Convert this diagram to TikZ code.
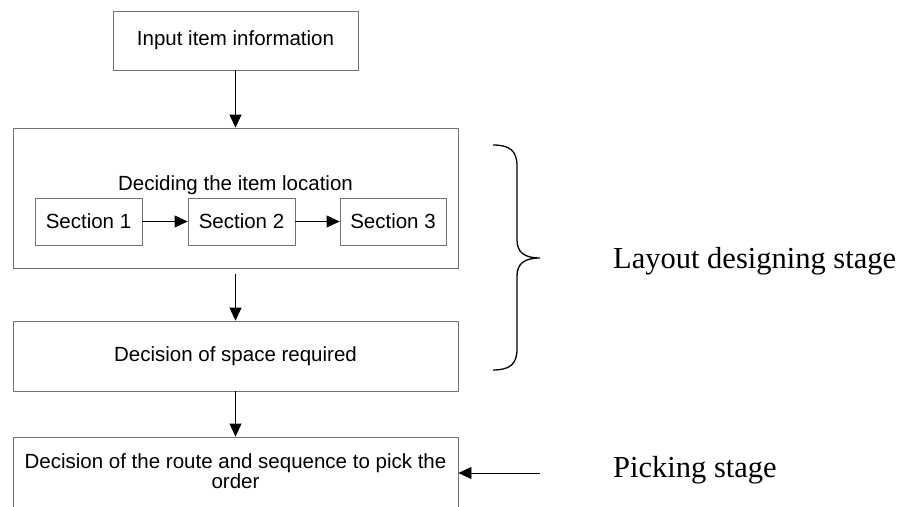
\documentclass[tikz,border=0pt]{standalone}
\usepackage{fontspec}
\setmainfont{Liberation Serif}
\newfontfamily\flowfont{Liberation Sans}
\usetikzlibrary{arrows.meta}

\tikzset{
  box/.style={draw=black!55, line width=0.8pt, rectangle, inner sep=0pt,
    font=\flowfont\fontsize{20.5}{20}\selectfont, align=center},
  plain/.style={inner sep=0pt, font=\flowfont\fontsize{20.5}{20}\selectfont, align=center},
  flow/.style={draw=black, line width=0.8pt, -{Triangle[length=13pt,width=12pt]}},
  stagelabel/.style={inner sep=0pt, anchor=base west, font=\fontsize{30.5}{30}\selectfont},
  bracestroke/.style={draw=black, line width=1.3pt}
}

\begin{document}
\begin{tikzpicture}[x=1pt, y=-1pt]
  \useasboundingbox (0,0) rectangle (917,506);
  \clip (0,0) rectangle (917,506);

  % flowchart boxes
  \node[box, minimum width=245pt, minimum height=59pt] (input) at (235.5,40.5) {Input item information};
  \node[box, minimum width=445pt, minimum height=140pt] (decide) at (235.5,198) {};
  \node[plain] (decidetitle) at (235.5,185) {Deciding the item location};
  \node[box, minimum width=107pt, minimum height=47pt] (s1) at (88.5,221.5) {Section 1};
  \node[box, minimum width=107pt, minimum height=47pt] (s2) at (241.5,221.5) {Section 2};
  \node[box, minimum width=106pt, minimum height=47pt] (s3) at (393,221.5) {Section 3};
  \node[box, minimum width=445pt, minimum height=70pt] (space) at (235.5,356) {Decision of space required};
  \node[box, minimum width=445pt, minimum height=90pt] (route) at (235.5,482) {};
  \node[plain] (routetext) at (235.5,471) {Decision of the route and sequence to pick the\\order};

  % connectors
  \draw[flow] (input.south) -- (decide.north);
  \draw[flow] (s1.east) -- (s2.west);
  \draw[flow] (s2.east) -- (s3.west);
  \draw[flow, shorten <=6pt] (decide.south) -- (space.north);
  \draw[flow] (space.south) -- (route.north);

  % picking stage pointer
  \coordinate (pk) at (540,473);
  \draw[flow] (pk) -- (pk -| route.east);

  % brace grouping the layout stage
  \draw[bracestroke] (493,145) .. controls (510,145) and (517,151) .. (517,166)
    -- (517,240) .. controls (517,252) and (524,258) .. (540,258)
    .. controls (524,258) and (517,264) .. (517,276)
    -- (517,349) .. controls (517,364) and (510,370) .. (493,370);

  % stage labels
  \node[stagelabel] (layout) at (613,268) {Layout designing stage};
  \node[stagelabel] (picking) at (613,477) {Picking stage};
\end{tikzpicture}
\end{document}
